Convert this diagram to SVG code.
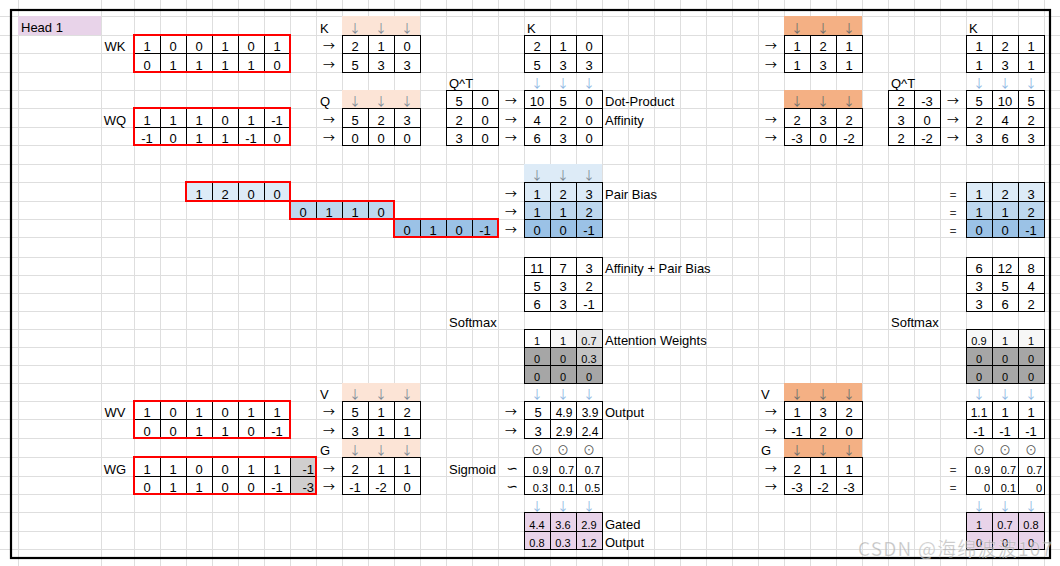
<svg xmlns="http://www.w3.org/2000/svg" width="1060" height="566" viewBox="0 0 1060 566">
<style>
.grid{fill:none;stroke:#DEDEDE;stroke-width:1;shape-rendering:crispEdges}
.tb{fill:none;stroke:#000;stroke-width:1;shape-rendering:crispEdges}
.red{fill:none;stroke:#FF0000;stroke-width:2;shape-rendering:crispEdges}
text{font-family:"Liberation Sans",Arial,sans-serif;font-size:13px;fill:#000}
.n text,text.n{text-anchor:middle}
.s text,text.s{font-size:11px}
.m text,text.m{font-size:12px}
text.r{text-anchor:end}
.sym,.n text.sym,#connectors text{font-family:"Noto Sans CJK SC","DejaVu Sans",sans-serif;text-anchor:middle;font-size:12px}
#connectors text.tl{font-family:"DejaVu Sans",sans-serif;font-size:14px}
.dg{fill:#7F8A96}
.db{fill:#8FB8E3}
.dot{fill:#555}
.peach{fill:#FCE4D6}
.orange{fill:#F4B084}
.b1{fill:#DDEBF7}
.b2{fill:#BDD7EE}
.b3{fill:#9BC2E6}
.gr{fill:#A6A6A6}
.pink{fill:#E8D3E9}
</style>
<rect width="1060" height="566" fill="#fff"/>
<path class="grid" d="M18.5 0V566M101.5 0V566M134.5 0V566M160.5 0V566M186.5 0V566M212.5 0V566M238.5 0V566M264.5 0V566M290.5 0V566M316.5 0V566M342.5 0V566M368.5 0V566M394.5 0V566M420.5 0V566M446.5 0V566M472.5 0V566M498.5 0V566M524.5 0V566M550.5 0V566M576.5 0V566M602.5 0V566M628.5 0V566M654.5 0V566M680.5 0V566M706.5 0V566M732.5 0V566M758.5 0V566M784.5 0V566M810.5 0V566M836.5 0V566M862.5 0V566M888.5 0V566M914.5 0V566M940.5 0V566M966.5 0V566M992.5 0V566M1018.5 0V566M1044.5 0V566M0 16.5H1060M0 35.5H1060M0 53.5H1060M0 72.5H1060M0 90.5H1060M0 108.5H1060M0 127.5H1060M0 145.5H1060M0 164.5H1060M0 182.5H1060M0 201.5H1060M0 219.5H1060M0 237.5H1060M0 257.5H1060M0 275.5H1060M0 293.5H1060M0 311.5H1060M0 329.5H1060M0 347.5H1060M0 365.5H1060M0 383.5H1060M0 401.5H1060M0 419.5H1060M0 438.5H1060M0 457.5H1060M0 476.5H1060M0 494.5H1060M0 512.5H1060M0 531.5H1060M0 549.5H1060"/>

<!-- fills -->
<g id="fills">
<rect x="18" y="16" width="83" height="19" class="pink"/>
<rect x="342" y="16" width="78" height="19" class="peach"/>
<rect x="342" y="90" width="78" height="18" class="peach"/>
<rect x="342" y="383" width="78" height="18" class="peach"/>
<rect x="342" y="438" width="78" height="19" class="peach"/>
<rect x="784" y="16" width="78" height="19" class="orange"/>
<rect x="784" y="90" width="78" height="18" class="orange"/>
<rect x="784" y="383" width="78" height="18" class="orange"/>
<rect x="784" y="438" width="78" height="19" class="orange"/>
<rect x="524" y="164" width="78" height="18" class="b1"/>
<rect x="186" y="182" width="104" height="19" class="b1"/>
<rect x="524" y="182" width="78" height="19" class="b1"/>
<rect x="966" y="182" width="78" height="19" class="b1"/>
<rect x="290" y="201" width="104" height="18" class="b2"/>
<rect x="524" y="201" width="78" height="18" class="b2"/>
<rect x="966" y="201" width="78" height="18" class="b2"/>
<rect x="394" y="219" width="104" height="18" class="b3"/>
<rect x="524" y="219" width="78" height="18" class="b3"/>
<rect x="966" y="219" width="78" height="18" class="b3"/>
<rect x="524" y="329" width="26" height="18" fill="#FFFFFF"/>
<rect x="550" y="329" width="26" height="18" fill="#F7F7F7"/>
<rect x="576" y="329" width="26" height="18" fill="#E6E6E6"/>
<rect x="524" y="347" width="52" height="36" class="gr"/>
<rect x="576" y="347" width="26" height="18" fill="#C3C3C3"/>
<rect x="576" y="365" width="26" height="18" class="gr"/>
<rect x="966" y="329" width="78" height="18" fill="#F7F7F7"/>
<rect x="966" y="347" width="78" height="36" class="gr"/>
<rect x="290" y="457" width="26" height="37" fill="#D0CECE"/>
<rect x="524" y="512" width="78" height="37" class="pink"/>
<rect x="966" y="512" width="78" height="37" class="pink"/>
</g>

<rect x="11" y="10" width="1039" height="548" fill="none" stroke="#000" stroke-width="2.2"/>

<text x="21" y="32">Head 1</text>

<!-- ===== left weight matrices ===== -->
<g id="wk" class="n">
<text x="115" y="51">WK</text>
<path class="tb" d="M134.5 35.5H290.5V72.5H134.5ZM134.5 53.5H290.5M160.5 35.5V72.5M186.5 35.5V72.5M212.5 35.5V72.5M238.5 35.5V72.5M264.5 35.5V72.5"/>
<rect class="red" x="134" y="35" width="156" height="37"/>
<text x="147" y="51">1</text><text x="173" y="51">0</text><text x="199" y="51">0</text><text x="225" y="51">1</text><text x="251" y="51">0</text><text x="277" y="51">1</text>
<text x="147" y="70">0</text><text x="173" y="70">1</text><text x="199" y="70">1</text><text x="225" y="70">1</text><text x="251" y="70">1</text><text x="277" y="70">0</text>
</g>
<g id="wq" class="n">
<text x="115" y="125">WQ</text>
<path class="tb" d="M134.5 108.5H290.5V145.5H134.5ZM134.5 127.5H290.5M160.5 108.5V145.5M186.5 108.5V145.5M212.5 108.5V145.5M238.5 108.5V145.5M264.5 108.5V145.5"/>
<rect class="red" x="134" y="108" width="156" height="37"/>
<text x="147" y="125">1</text><text x="173" y="125">1</text><text x="199" y="125">1</text><text x="225" y="125">0</text><text x="251" y="125">1</text><text x="277" y="125">-1</text>
<text x="147" y="143">-1</text><text x="173" y="143">0</text><text x="199" y="143">1</text><text x="225" y="143">1</text><text x="251" y="143">-1</text><text x="277" y="143">0</text>
</g>
<g id="pairbias-in" class="n">
<path class="tb" d="M212.5 182.5V201.5M238.5 182.5V201.5M264.5 182.5V201.5M316.5 201.5V219.5M342.5 201.5V219.5M368.5 201.5V219.5M420.5 219.5V237.5M446.5 219.5V237.5M472.5 219.5V237.5"/>
<rect class="red" x="186" y="182" width="104" height="19"/>
<rect class="red" x="290" y="201" width="104" height="18"/>
<rect class="red" x="394" y="219" width="104" height="18"/>
<text x="199" y="199">1</text><text x="225" y="199">2</text><text x="251" y="199">0</text><text x="277" y="199">0</text>
<text x="303" y="217">0</text><text x="329" y="217">1</text><text x="355" y="217">1</text><text x="381" y="217">0</text>
<text x="407" y="235">0</text><text x="433" y="235">1</text><text x="459" y="235">0</text><text x="485" y="235">-1</text>
</g>
<g id="wv" class="n">
<text x="115" y="417">WV</text>
<path class="tb" d="M134.5 401.5H290.5V438.5H134.5ZM134.5 419.5H290.5M160.5 401.5V438.5M186.5 401.5V438.5M212.5 401.5V438.5M238.5 401.5V438.5M264.5 401.5V438.5"/>
<rect class="red" x="134" y="401" width="156" height="37"/>
<text x="147" y="417">1</text><text x="173" y="417">0</text><text x="199" y="417">1</text><text x="225" y="417">0</text><text x="251" y="417">1</text><text x="277" y="417">1</text>
<text x="147" y="436">0</text><text x="173" y="436">0</text><text x="199" y="436">1</text><text x="225" y="436">1</text><text x="251" y="436">0</text><text x="277" y="436">-1</text>
</g>
<g id="wg" class="n">
<text x="115" y="474">WG</text>
<path class="tb" d="M134.5 457.5H316.5V494.5H134.5ZM134.5 476.5H316.5M160.5 457.5V494.5M186.5 457.5V494.5M212.5 457.5V494.5M238.5 457.5V494.5M264.5 457.5V494.5M290.5 457.5V494.5"/>
<rect class="red" x="134" y="457" width="182" height="37"/>
<text x="147" y="474">1</text><text x="173" y="474">1</text><text x="199" y="474">0</text><text x="225" y="474">0</text><text x="251" y="474">1</text><text x="277" y="474">1</text><text class="r" x="314" y="474">-1</text>
<text x="147" y="492">0</text><text x="173" y="492">1</text><text x="199" y="492">1</text><text x="225" y="492">0</text><text x="251" y="492">0</text><text x="277" y="492">-1</text><text class="r" x="314" y="492">-3</text>
</g>

<!-- ===== left projections K Q V G ===== -->
<g id="k-left" class="n">
<text x="320" y="33" style="text-anchor:start">K</text>
<text class="sym dg" x="355" y="33">↓</text><text class="sym dg" x="381" y="33">↓</text><text class="sym dg" x="407" y="33">↓</text>
<path class="tb" d="M342.5 35.5H420.5V72.5H342.5ZM342.5 53.5H420.5M368.5 35.5V72.5M394.5 35.5V72.5"/>
<text x="355" y="51">2</text><text x="381" y="51">1</text><text x="407" y="51">0</text>
<text x="355" y="70">5</text><text x="381" y="70">3</text><text x="407" y="70">3</text>
</g>
<g id="q-left" class="n">
<text x="320" y="106" style="text-anchor:start">Q</text>
<text class="sym dg" x="355" y="106">↓</text><text class="sym dg" x="381" y="106">↓</text><text class="sym dg" x="407" y="106">↓</text>
<path class="tb" d="M342.5 108.5H420.5V145.5H342.5ZM342.5 127.5H420.5M368.5 108.5V145.5M394.5 108.5V145.5"/>
<text x="355" y="125">5</text><text x="381" y="125">2</text><text x="407" y="125">3</text>
<text x="355" y="143">0</text><text x="381" y="143">0</text><text x="407" y="143">0</text>
</g>
<g id="v-left" class="n">
<text x="320" y="399" style="text-anchor:start">V</text>
<text class="sym dg" x="355" y="399">↓</text><text class="sym dg" x="381" y="399">↓</text><text class="sym dg" x="407" y="399">↓</text>
<path class="tb" d="M342.5 401.5H420.5V438.5H342.5ZM342.5 419.5H420.5M368.5 401.5V438.5M394.5 401.5V438.5"/>
<text x="355" y="417">5</text><text x="381" y="417">1</text><text x="407" y="417">2</text>
<text x="355" y="436">3</text><text x="381" y="436">1</text><text x="407" y="436">1</text>
</g>
<g id="g-left" class="n">
<text x="320" y="455" style="text-anchor:start">G</text>
<text class="sym dg" x="355" y="455">↓</text><text class="sym dg" x="381" y="455">↓</text><text class="sym dg" x="407" y="455">↓</text>
<path class="tb" d="M342.5 457.5H420.5V494.5H342.5ZM342.5 476.5H420.5M368.5 457.5V494.5M394.5 457.5V494.5"/>
<text x="355" y="474">2</text><text x="381" y="474">1</text><text x="407" y="474">1</text>
<text x="355" y="492">-1</text><text x="381" y="492">-2</text><text x="407" y="492">0</text>
</g>

<!-- ===== middle column ===== -->
<g id="k-mid" class="n">
<text x="527" y="33" style="text-anchor:start">K</text>
<path class="tb" d="M524.5 35.5H602.5V72.5H524.5ZM524.5 53.5H602.5M550.5 35.5V72.5M576.5 35.5V72.5"/>
<text x="537" y="51">2</text><text x="563" y="51">1</text><text x="589" y="51">0</text>
<text x="537" y="70">5</text><text x="563" y="70">3</text><text x="589" y="70">3</text>
</g>
<g id="qt-mid" class="n">
<text x="449" y="88" style="text-anchor:start">Q^T</text>
<path class="tb" d="M446.5 90.5H498.5V145.5H446.5ZM446.5 108.5H498.5M446.5 127.5H498.5M472.5 90.5V145.5"/>
<text x="459" y="106">5</text><text x="485" y="106">0</text>
<text x="459" y="125">2</text><text x="485" y="125">0</text>
<text x="459" y="143">3</text><text x="485" y="143">0</text>
</g>
<g id="affinity-mid" class="n">
<text class="sym db" x="537" y="88">↓</text><text class="sym db" x="563" y="88">↓</text><text class="sym db" x="589" y="88">↓</text>
<path class="tb" d="M524.5 90.5H602.5V145.5H524.5ZM524.5 108.5H602.5M524.5 127.5H602.5M550.5 90.5V145.5M576.5 90.5V145.5"/>
<text x="537" y="106">10</text><text x="563" y="106">5</text><text x="589" y="106">0</text>
<text x="537" y="125">4</text><text x="563" y="125">2</text><text x="589" y="125">0</text>
<text x="537" y="143">6</text><text x="563" y="143">3</text><text x="589" y="143">0</text>
<text x="605" y="106" style="text-anchor:start">Dot-Product</text>
<text x="605" y="125" style="text-anchor:start">Affinity</text>
</g>
<g id="pairbias-mid" class="n">
<text class="sym dg" x="537" y="180">↓</text><text class="sym dg" x="563" y="180">↓</text><text class="sym dg" x="589" y="180">↓</text>
<path class="tb" d="M524.5 182.5H602.5V237.5H524.5ZM524.5 201.5H602.5M524.5 219.5H602.5M550.5 182.5V237.5M576.5 182.5V237.5"/>
<text x="537" y="199">1</text><text x="563" y="199">2</text><text x="589" y="199">3</text>
<text x="537" y="217">1</text><text x="563" y="217">1</text><text x="589" y="217">2</text>
<text x="537" y="235">0</text><text x="563" y="235">0</text><text x="589" y="235">-1</text>
<text x="605" y="199" style="text-anchor:start">Pair Bias</text>
</g>
<g id="sum-mid" class="n">
<path class="tb" d="M524.5 257.5H602.5V311.5H524.5ZM524.5 275.5H602.5M524.5 293.5H602.5M550.5 257.5V311.5M576.5 257.5V311.5"/>
<text x="537" y="273">11</text><text x="563" y="273">7</text><text x="589" y="273">3</text>
<text x="537" y="291">5</text><text x="563" y="291">3</text><text x="589" y="291">2</text>
<text x="537" y="309">6</text><text x="563" y="309">3</text><text x="589" y="309">-1</text>
<text x="605" y="273" style="text-anchor:start">Affinity + Pair Bias</text>
</g>
<text x="449" y="327">Softmax</text>
<g id="attn-mid" class="n">
<path class="tb" d="M524.5 329.5H602.5V383.5H524.5ZM524.5 347.5H602.5M524.5 365.5H602.5M550.5 329.5V383.5M576.5 329.5V383.5"/>
<g class="s">
<text x="537" y="345">1</text><text x="563" y="345">1</text><text x="589" y="345">0.7</text>
<text x="537" y="363">0</text><text x="563" y="363">0</text><text x="589" y="363">0.3</text>
<text x="537" y="381">0</text><text x="563" y="381">0</text><text x="589" y="381">0</text>
</g>
<text x="605" y="345" style="text-anchor:start">Attention Weights</text>
</g>
<g id="output-mid" class="n">
<text class="sym db" x="537" y="399">↓</text><text class="sym db" x="563" y="399">↓</text><text class="sym db" x="589" y="399">↓</text>
<path class="tb" d="M524.5 401.5H602.5V438.5H524.5ZM524.5 419.5H602.5M550.5 401.5V438.5M576.5 401.5V438.5"/>
<text x="538" y="417">5</text><text class="m" x="564" y="417">4.9</text><text class="m" x="590" y="417">3.9</text>
<text x="538" y="436">3</text><text class="m" x="564" y="436">2.9</text><text class="m" x="590" y="436">2.4</text>
<text x="605" y="417" style="text-anchor:start">Output</text>
</g>
<text x="449" y="474">Sigmoid</text>
<g id="sigmoid-mid">
<text class="sym dot" x="537" y="455">⊙</text><text class="sym dot" x="563" y="455">⊙</text><text class="sym dot" x="589" y="455">⊙</text>
<path class="tb" d="M524.5 457.5H602.5V494.5H524.5ZM524.5 476.5H602.5M550.5 457.5V494.5M576.5 457.5V494.5"/>
<text class="s r" x="548" y="474">0.9</text><text class="s r" x="574" y="474">0.7</text><text class="s r" x="600" y="474">0.7</text>
<text class="s r" x="548" y="492">0.3</text><text class="s r" x="574" y="492">0.1</text><text class="s r" x="600" y="492">0.5</text>
</g>
<g id="gated-mid" class="n">
<text class="sym db" x="537" y="511">↓</text><text class="sym db" x="563" y="511">↓</text><text class="sym db" x="589" y="511">↓</text>
<path class="tb" d="M524.5 512.5H602.5V549.5H524.5ZM524.5 531.5H602.5M550.5 512.5V549.5M576.5 512.5V549.5"/>
<g class="s">
<text x="537" y="529">4.4</text><text x="563" y="529">3.6</text><text x="589" y="529">2.9</text>
<text x="537" y="547">0.8</text><text x="563" y="547">0.3</text><text x="589" y="547">1.2</text>
</g>
<text x="605" y="529" style="text-anchor:start">Gated</text>
<text x="605" y="547" style="text-anchor:start">Output</text>
</g>

<!-- ===== right projections ===== -->
<g id="k-right-proj" class="n">
<text class="sym dg" x="797" y="33" style="fill:#6E6E6E">↓</text><text class="sym dg" x="823" y="33" style="fill:#6E6E6E">↓</text><text class="sym dg" x="849" y="33" style="fill:#6E6E6E">↓</text>
<path class="tb" d="M784.5 35.5H862.5V72.5H784.5ZM784.5 53.5H862.5M810.5 35.5V72.5M836.5 35.5V72.5"/>
<text x="797" y="51">1</text><text x="823" y="51">2</text><text x="849" y="51">1</text>
<text x="797" y="70">1</text><text x="823" y="70">3</text><text x="849" y="70">1</text>
</g>
<g id="q-right-proj" class="n">
<text class="sym dg" x="797" y="106" style="fill:#6E6E6E">↓</text><text class="sym dg" x="823" y="106" style="fill:#6E6E6E">↓</text><text class="sym dg" x="849" y="106" style="fill:#6E6E6E">↓</text>
<path class="tb" d="M784.5 108.5H862.5V145.5H784.5ZM784.5 127.5H862.5M810.5 108.5V145.5M836.5 108.5V145.5"/>
<text x="797" y="125">2</text><text x="823" y="125">3</text><text x="849" y="125">2</text>
<text x="797" y="143">-3</text><text x="823" y="143">0</text><text x="849" y="143">-2</text>
</g>
<g id="v-right" class="n">
<text x="761" y="399" style="text-anchor:start">V</text>
<text class="sym dg" x="797" y="399" style="fill:#6E6E6E">↓</text><text class="sym dg" x="823" y="399" style="fill:#6E6E6E">↓</text><text class="sym dg" x="849" y="399" style="fill:#6E6E6E">↓</text>
<path class="tb" d="M784.5 401.5H862.5V438.5H784.5ZM784.5 419.5H862.5M810.5 401.5V438.5M836.5 401.5V438.5"/>
<text x="797" y="417">1</text><text x="823" y="417">3</text><text x="849" y="417">2</text>
<text x="797" y="436">-1</text><text x="823" y="436">2</text><text x="849" y="436">0</text>
</g>
<g id="g-right" class="n">
<text x="761" y="455" style="text-anchor:start">G</text>
<text class="sym dg" x="797" y="455" style="fill:#6E6E6E">↓</text><text class="sym dg" x="823" y="455" style="fill:#6E6E6E">↓</text><text class="sym dg" x="849" y="455" style="fill:#6E6E6E">↓</text>
<path class="tb" d="M784.5 457.5H862.5V494.5H784.5ZM784.5 476.5H862.5M810.5 457.5V494.5M836.5 457.5V494.5"/>
<text x="797" y="474">2</text><text x="823" y="474">1</text><text x="849" y="474">1</text>
<text x="797" y="492">-3</text><text x="823" y="492">-2</text><text x="849" y="492">-3</text>
</g>

<!-- ===== right column ===== -->
<g id="k-right" class="n">
<text x="969" y="33" style="text-anchor:start">K</text>
<path class="tb" d="M966.5 35.5H1044.5V72.5H966.5ZM966.5 53.5H1044.5M992.5 35.5V72.5M1018.5 35.5V72.5"/>
<text x="979" y="51">1</text><text x="1005" y="51">2</text><text x="1031" y="51">1</text>
<text x="979" y="70">1</text><text x="1005" y="70">3</text><text x="1031" y="70">1</text>
</g>
<g id="qt-right" class="n">
<text x="891" y="88" style="text-anchor:start">Q^T</text>
<path class="tb" d="M888.5 90.5H940.5V145.5H888.5ZM888.5 108.5H940.5M888.5 127.5H940.5M914.5 90.5V145.5"/>
<text x="901" y="106">2</text><text x="927" y="106">-3</text>
<text x="901" y="125">3</text><text x="927" y="125">0</text>
<text x="901" y="143">2</text><text x="927" y="143">-2</text>
</g>
<g id="affinity-right" class="n">
<text class="sym db" x="979" y="88">↓</text><text class="sym db" x="1005" y="88">↓</text><text class="sym db" x="1031" y="88">↓</text>
<path class="tb" d="M966.5 90.5H1044.5V145.5H966.5ZM966.5 108.5H1044.5M966.5 127.5H1044.5M992.5 90.5V145.5M1018.5 90.5V145.5"/>
<text x="979" y="106">5</text><text x="1005" y="106">10</text><text x="1031" y="106">5</text>
<text x="979" y="125">2</text><text x="1005" y="125">4</text><text x="1031" y="125">2</text>
<text x="979" y="143">3</text><text x="1005" y="143">6</text><text x="1031" y="143">3</text>
</g>
<g id="pairbias-right" class="n">
<path class="tb" d="M966.5 182.5H1044.5V237.5H966.5ZM966.5 201.5H1044.5M966.5 219.5H1044.5M992.5 182.5V237.5M1018.5 182.5V237.5"/>
<text x="979" y="199">1</text><text x="1005" y="199">2</text><text x="1031" y="199">3</text>
<text x="979" y="217">1</text><text x="1005" y="217">1</text><text x="1031" y="217">2</text>
<text x="979" y="235">0</text><text x="1005" y="235">0</text><text x="1031" y="235">-1</text>
</g>
<g id="sum-right" class="n">
<path class="tb" d="M966.5 257.5H1044.5V311.5H966.5ZM966.5 275.5H1044.5M966.5 293.5H1044.5M992.5 257.5V311.5M1018.5 257.5V311.5"/>
<text x="979" y="273">6</text><text x="1005" y="273">12</text><text x="1031" y="273">8</text>
<text x="979" y="291">3</text><text x="1005" y="291">5</text><text x="1031" y="291">4</text>
<text x="979" y="309">3</text><text x="1005" y="309">6</text><text x="1031" y="309">2</text>
</g>
<text x="891" y="327">Softmax</text>
<g id="attn-right" class="n s">
<path class="tb" d="M966.5 329.5H1044.5V383.5H966.5ZM966.5 347.5H1044.5M966.5 365.5H1044.5M992.5 329.5V383.5M1018.5 329.5V383.5"/>
<text x="979" y="345">0.9</text><text x="1005" y="345">1</text><text x="1031" y="345">1</text>
<text x="979" y="363">0</text><text x="1005" y="363">0</text><text x="1031" y="363">0</text>
<text x="979" y="381">0</text><text x="1005" y="381">0</text><text x="1031" y="381">0</text>
</g>
<g id="output-right" class="n">
<text class="sym db" x="979" y="399">↓</text><text class="sym db" x="1005" y="399">↓</text><text class="sym db" x="1031" y="399">↓</text>
<path class="tb" d="M966.5 401.5H1044.5V438.5H966.5ZM966.5 419.5H1044.5M992.5 401.5V438.5M1018.5 401.5V438.5"/>
<text class="m" x="979" y="417">1.1</text><text x="1005" y="417">1</text><text x="1031" y="417">1</text>
<text x="979" y="436">-1</text><text x="1005" y="436">-1</text><text x="1031" y="436">-1</text>
</g>
<g id="sigmoid-right">
<text class="sym dot" x="979" y="455">⊙</text><text class="sym dot" x="1005" y="455">⊙</text><text class="sym dot" x="1031" y="455">⊙</text>
<path class="tb" d="M966.5 457.5H1044.5V494.5H966.5ZM966.5 476.5H1044.5M992.5 457.5V494.5M1018.5 457.5V494.5"/>
<text class="s r" x="990" y="474">0.9</text><text class="s r" x="1016" y="474">0.7</text><text class="s r" x="1042" y="474">0.7</text>
<text class="s r" x="990" y="492">0</text><text class="s r" x="1016" y="492">0.1</text><text class="s r" x="1042" y="492">0</text>
</g>
<g id="gated-right" class="n">
<text class="sym db" x="979" y="511">↓</text><text class="sym db" x="1005" y="511">↓</text><text class="sym db" x="1031" y="511">↓</text>
<path class="tb" d="M966.5 512.5H1044.5V549.5H966.5ZM966.5 531.5H1044.5M992.5 512.5V549.5M1018.5 512.5V549.5"/>
<g class="s">
<text x="979" y="529">1</text><text x="1005" y="529">0.7</text><text x="1031" y="529">0.8</text>
<text x="979" y="547">0</text><text x="1005" y="547">0</text><text x="1031" y="547">0</text>
</g>
</g>

<!-- ===== connectors (arrow / operator glyphs) ===== -->
<g id="connectors">
<text x="329" y="51">→</text><text x="329" y="70">→</text>
<text x="329" y="125">→</text><text x="329" y="143">→</text>
<text x="329" y="417">→</text><text x="329" y="436">→</text>
<text x="329" y="474">→</text><text x="329" y="492">→</text>
<text x="511" y="106">→</text><text x="511" y="125">→</text><text x="511" y="143">→</text>
<text x="511" y="199">→</text><text x="511" y="217">→</text><text x="511" y="235">→</text>
<text x="511" y="417">→</text><text x="511" y="436">→</text>
<text class="tl" x="512" y="473">∽</text><text class="tl" x="512" y="491">∽</text>
<text x="771" y="51">→</text><text x="771" y="70">→</text>
<text x="771" y="125">→</text><text x="771" y="143">→</text>
<text x="771" y="417">→</text><text x="771" y="436">→</text>
<text x="771" y="474">→</text><text x="771" y="492">→</text>
<text x="953" y="106">→</text><text x="953" y="125">→</text><text x="953" y="143">→</text>
<text x="953" y="199">=</text><text x="953" y="217">=</text><text x="953" y="235">=</text>
<text x="953" y="474">=</text><text x="953" y="492">=</text>
</g>

<text x="858" y="556" textLength="194" style="font-family:'Noto Sans CJK SC','Liberation Sans',sans-serif;font-size:19px;fill:#9A9A9A;fill-opacity:0.6;stroke:#fff;stroke-width:0.6;stroke-opacity:0.5">CSDN @海绵波波107</text>
</svg>
